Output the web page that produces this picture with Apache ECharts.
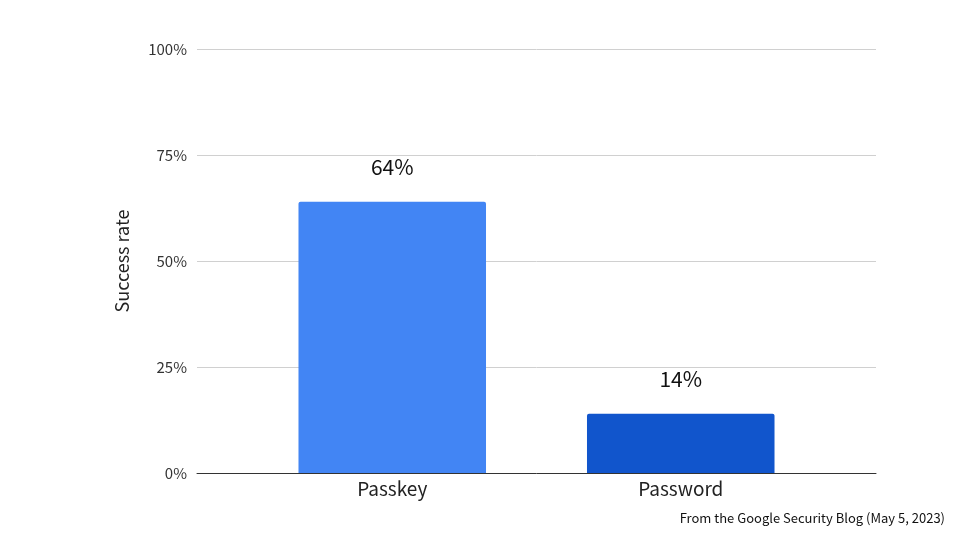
<!DOCTYPE html>
<html><head><meta charset="utf-8">
<script src="https://cdn.jsdelivr.net/npm/echarts@6/dist/echarts.min.js"></script>
<style>html,body{margin:0;padding:0;background:#fff}#c{width:960px;height:540px}</style>
</head><body><div id="c"></div>
<script>
const categories = ['Passkey', 'Password'];
const values = [64, 14];
const barColors = ['#4285F4', '#1155CC'];
const yTicks = [0, 25, 50, 75, 100];

const F = '"Noto Sans CJK JP", "Noto Sans", sans-serif';
const chart = echarts.init(document.getElementById('c'));
chart.setOption({
  animation: false,
  textStyle: { fontFamily: F },
  grid: [
    { left: 197, right: 84, top: 49, bottom: 67 },
    { left: 248, right: 135, top: 49, bottom: 67 }
  ],
  xAxis: [
    { gridIndex: 0, type: 'category', data: [''], axisTick: { show: false },
      axisLabel: { show: false }, axisLine: { lineStyle: { color: '#333', width: 1 } } },
    { gridIndex: 1, type: 'category', data: categories, axisTick: { show: false },
      axisLine: { show: false },
      axisLabel: { color: '#222', fontSize: 19, margin: 6, fontFamily: F } }
  ],
  yAxis: [
    { gridIndex: 0, type: 'value', min: 0, max: 100, interval: 25,
      name: 'Success rate', nameLocation: 'middle', nameGap: 66, nameRotate: 90,
      nameTextStyle: { color: '#222', fontSize: 18, fontFamily: F },
      axisLabel: { color: '#333', fontSize: 15, formatter: v => v + '%', margin: 10, fontFamily: F },
      splitLine: { lineStyle: { color: '#d0d0d0' } } },
    { gridIndex: 1, type: 'value', min: 0, max: 100, interval: 25, show: false, splitLine: { show: false } }
  ],
  series: [{
    type: 'bar', xAxisIndex: 1, yAxisIndex: 1, barWidth: '65%',
    data: values.map((v, i) => ({ value: v, itemStyle: { color: barColors[i] } })),
    itemStyle: { borderRadius: [2, 2, 0, 0] },
    label: { show: true, position: 'top', distance: 24, color: '#111', fontSize: 21, fontFamily: F, formatter: p => p.value + '%' }
  }],
  graphic: [{
    type: 'text', right: 15, top: 512,
    style: { text: 'From the Google Security Blog (May 5, 2023)', fill: '#111', font: '13px ' + F }
  }]
});
</script></body></html>
